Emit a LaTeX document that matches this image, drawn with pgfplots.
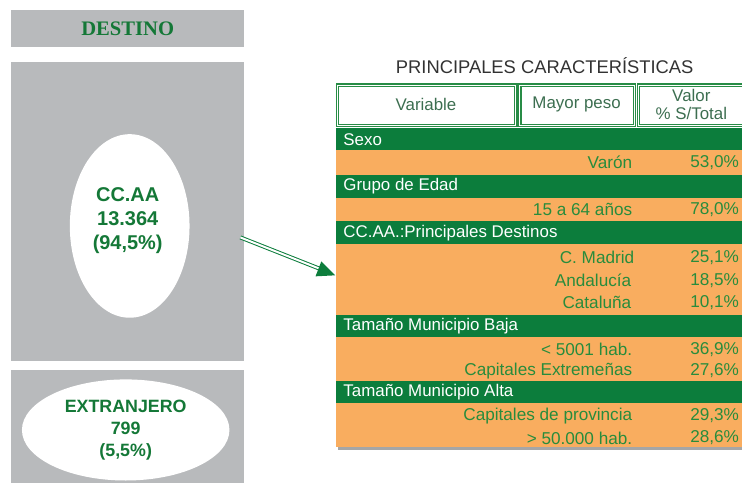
\documentclass[border=0pt]{standalone}
\usepackage{pgfplots}
\pgfplotsset{compat=1.18}
\usepackage{fontspec}
\setmainfont{Liberation Sans}
\newfontfamily\serifb{Liberation Serif}
\definecolor{band}{RGB}{12,125,60}
\definecolor{orng}{RGB}{249,173,95}
\definecolor{txtg}{RGB}{40,140,60}
\definecolor{boxg}{RGB}{184,186,188}
\definecolor{hdr}{RGB}{40,140,70}
\definecolor{hdrt}{RGB}{60,110,80}
\definecolor{ellg}{RGB}{20,120,55}
\definecolor{ttl}{RGB}{50,50,50}
\begin{document}
\begin{tikzpicture}
\begin{axis}[scale only axis, width=558pt, height=363pt,
  xmin=0, xmax=744, ymin=0, ymax=484, y dir=reverse,
  hide axis, clip=false]
\path (0,0) rectangle (744,484);
% left panel
\fill[boxg] (11,10) rectangle (245,47);
\node[font=\serifb\bfseries\fontsize{15.5}{18}\selectfont, text=ellg] at (128,29) {DESTINO};
\fill[boxg] (11,62) rectangle (245,362);
\fill[white] (130,226.5) ellipse [x radius=45pt, y radius=69pt];
\node[font=\bfseries\fontsize{15}{18}\selectfont, text=ellg, align=center] at (128,221) {CC.AA\\13.364\\(94,5\%)};
\fill[boxg] (11,371) rectangle (245,484);
\fill[white] (126,431) ellipse [x radius=78pt, y radius=38pt];
\node[font=\bfseries\fontsize{13.4}{16.5}\selectfont, text=ellg, align=center] at (126,431) {EXTRANJERO\\799\\(5,5\%)};
% arrow
\draw[band, line width=0.75pt, double=white, double distance=1.5pt] (241,238) -- (322,270);
\fill[band] (336,276) -- (316.3,277) -- (322.1,262) -- cycle;
% title
\node[font=\fontsize{13.8}{16}\selectfont, text=ttl] at (546,66) {PRINCIPALES CARACTERÍSTICAS};
% header cells
\tikzset{hb/.style={hdr, line width=0.85pt, double=white, double distance=1pt}}
\draw[hb] (338.5,85.5) rectangle (517,126);
\draw[hb] (521,85.5) rectangle (636,126);
\draw[hb] (744,85.5) -- (640,85.5) -- (640,126) -- (744,126);
\node[font=\fontsize{12.7}{15}\selectfont, text=hdrt] at (427,105) {Variable};
\node[font=\fontsize{12.7}{15}\selectfont, text=hdrt] at (578,105) {Mayor peso};
\node[font=\fontsize{12.7}{13.5}\selectfont, text=hdrt, align=center] at (693,105) {Valor\\\% S/Total};
% shadow
\fill[black!35] (339,448) rectangle (744,451.5);
% bands
\fill[band] (337,128) rectangle (744,150);
\fill[orng] (337,150) rectangle (744,175);
\fill[band] (337,175) rectangle (744,198);
\fill[orng] (337,198) rectangle (744,222);
\fill[band] (337,222) rectangle (744,245);
\fill[orng] (337,245) rectangle (744,316);
\fill[band] (337,316) rectangle (744,338);
\fill[orng] (337,338) rectangle (744,382);
\fill[band] (337,382) rectangle (744,404);
\fill[orng] (337,404) rectangle (744,448);
% band texts
\tikzset{bt/.style={font=\fontsize{12.7}{15}\selectfont, text=white, anchor=west, inner sep=0pt},
         ot/.style={font=\fontsize{12.9}{15}\selectfont, text=txtg, anchor=east, inner sep=0pt}}
\node[bt] at (344,140) {Sexo};
\node[bt] at (344,187) {Grupo de Edad};
\node[bt] at (344,234) {CC.AA.:Principales Destinos};
\node[bt] at (344,327) {Tamaño Municipio Baja};
\node[bt] at (344,393.5) {Tamaño Municipio Alta};
% orange rows
\node[ot] at (634,163) {Varón};        \node[ot] at (741,163) {53,0\%};
\node[ot] at (634,210) {15 a 64 años}; \node[ot] at (741,210) {78,0\%};
\node[ot] at (636,258) {C. Madrid};    \node[ot] at (741,258) {25,1\%};
\node[ot] at (633,281) {Andalucía};    \node[ot] at (741,281) {18,5\%};
\node[ot] at (633,303) {Cataluña};     \node[ot] at (741,303) {10,1\%};
\node[ot] at (634,350) {< 5001 hab.};  \node[ot] at (741,350) {36,9\%};
\node[ot] at (634,372) {Capitales Extremeñas}; \node[ot] at (741,372) {27,6\%};
\node[ot] at (634,417) {Capitales de provincia}; \node[ot] at (741,417) {29,3\%};
\node[ot] at (634,439) {> 50.000 hab.}; \node[ot] at (741,439) {28,6\%};
\end{axis}
\end{tikzpicture}
\end{document}
